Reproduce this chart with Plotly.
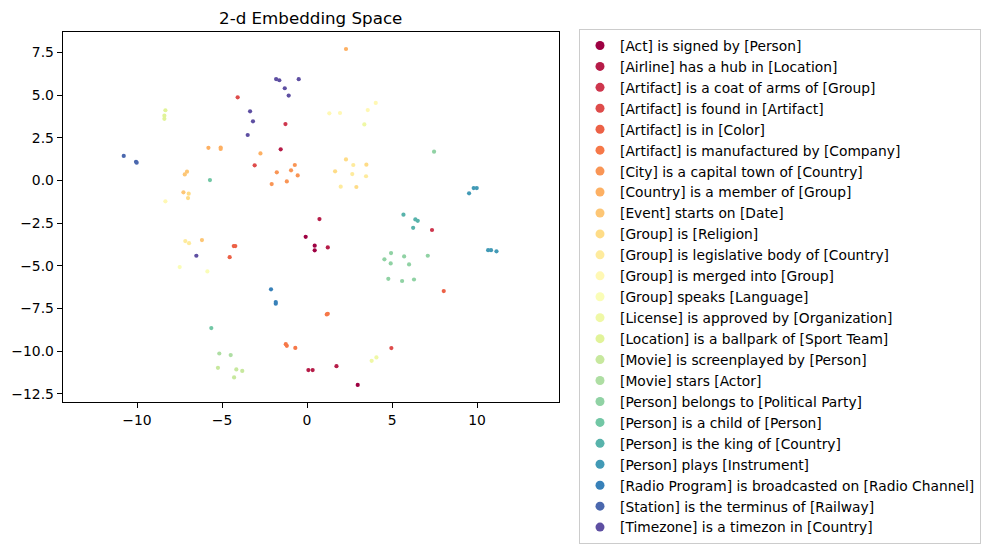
import plotly.graph_objects as go

# ---------------- data ----------------
relations = [
    "[Act] is signed by [Person]",
    "[Airline] has a hub in [Location]",
    "[Artifact] is a coat of arms of [Group]",
    "[Artifact] is found in [Artifact]",
    "[Artifact] is in [Color]",
    "[Artifact] is manufactured by [Company]",
    "[City] is a capital town of [Country]",
    "[Country] is a member of [Group]",
    "[Event] starts on [Date]",
    "[Group] is [Religion]",
    "[Group] is legislative body of [Country]",
    "[Group] is merged into [Group]",
    "[Group] speaks [Language]",
    "[License] is approved by [Organization]",
    "[Location] is a ballpark of [Sport Team]",
    "[Movie] is screenplayed by [Person]",
    "[Movie] stars [Actor]",
    "[Person] belongs to [Political Party]",
    "[Person] is a child of [Person]",
    "[Person] is the king of [Country]",
    "[Person] plays [Instrument]",
    "[Radio Program] is broadcasted on [Radio Channel]",
    "[Station] is the terminus of [Railway]",
    "[Timezone] is a timezon in [Country]",
]

x_act = [0.45, 0.45, 2.98, -0.08]
y_act = [-3.82, -4.09, -11.98, -3.30]
x_airline = [0.73, 1.22, 1.73, 0.08, 0.33, -1.55]
y_airline = [-2.26, -3.92, -10.88, -11.11, -11.11, 1.83]
x_coat = [7.35, -1.27]
y_coat = [-2.90, 3.31]
x_found = [-4.08, -3.08, 4.96]
y_found = [4.88, 0.89, -9.82]
x_color = [-4.31, -4.22, -4.55, 8.04]
y_color = [-3.84, -3.84, -4.49, -6.48]
x_manuf = [1.16, 1.22, -1.25, -1.19, -0.69]
y_manuf = [-7.85, -7.81, -9.59, -9.69, -9.81]
x_capital = [-0.72, -0.94, -0.55, -1.78, -1.19, -2.08]
y_capital = [0.91, 0.60, 0.30, 0.48, -0.05, -0.21]
x_member = [2.29, -2.74, -5.80, -5.08, -5.08]
y_member = [7.71, 1.59, 1.92, 1.93, 1.85]
x_event = [-7.06, -7.19, -6.18, -7.27]
y_event = [0.52, 0.36, -3.49, -0.69]
x_religion = [-6.96, -7.00, 2.29, 3.49, 1.65, 2.90]
y_religion = [-0.77, -1.03, 1.24, 0.93, 0.54, -0.38]
x_legis = [2.72, 2.66, 3.47, 1.98, -7.16, -6.94]
y_legis = [0.91, 0.38, 0.25, -0.36, -3.55, -3.67]
x_merged = [1.31, 1.94, 3.57, 4.04, -8.33]
y_merged = [3.94, 3.96, 4.13, 4.55, -1.22]
x_speaks = [-7.49, -5.86]
y_speaks = [-5.07, -5.33]
x_license = [3.37, 4.08, 3.80]
y_license = [3.29, -10.37, -10.57]
x_ballpark = [-8.33, -8.39, -8.39]
y_ballpark = [4.12, 3.80, 3.62]
x_screen = [-5.24, -4.16, -3.81, -4.29]
y_screen = [-10.98, -11.07, -11.16, -11.54]
x_stars = [-5.16, -4.49]
y_stars = [-10.14, -10.23]
x_belongs = [4.94, 5.71, 4.55, 4.92, 6.00, 7.10, 4.78, 5.59, 6.29, 7.47]
y_belongs = [-4.25, -4.45, -4.62, -4.86, -4.92, -4.41, -5.76, -5.89, -5.80, 1.69]
x_child = [-5.71, -5.63]
y_child = [0.03, -8.65]
x_king = [5.67, 6.37, 6.51, 6.24]
y_king = [-2.00, -2.28, -2.36, -2.77]
x_plays = [9.80, 9.98, 9.53, 10.65, 10.82, 11.14]
y_plays = [-0.44, -0.44, -0.75, -4.08, -4.08, -4.15]
x_radio = [-2.12, -1.84, -1.84]
y_radio = [-6.38, -7.12, -7.22]
x_station = [-10.78, -10.06, -10.02]
y_station = [1.44, 1.10, 1.05]
x_timezone = [-1.82, -1.63, -0.49, -1.31, -1.08, -3.35, -3.18, -3.49, -6.51]
y_timezone = [5.95, 5.88, 5.94, 5.41, 4.98, 4.06, 3.47, 2.67, -4.41]

xs = [x_act, x_airline, x_coat, x_found, x_color, x_manuf, x_capital, x_member,
      x_event, x_religion, x_legis, x_merged, x_speaks, x_license, x_ballpark,
      x_screen, x_stars, x_belongs, x_child, x_king, x_plays, x_radio,
      x_station, x_timezone]
ys = [y_act, y_airline, y_coat, y_found, y_color, y_manuf, y_capital, y_member,
      y_event, y_religion, y_legis, y_merged, y_speaks, y_license, y_ballpark,
      y_screen, y_stars, y_belongs, y_child, y_king, y_plays, y_radio,
      y_station, y_timezone]

x_ticks = [-10, -5, 0, 5, 10]
y_ticks = [-12.5, -10.0, -7.5, -5.0, -2.5, 0.0, 2.5, 5.0, 7.5]

# ---------------- colormap (Spectral) ----------------
spectral = ["#9e0142", "#d53e4f", "#f46d43", "#fdae61", "#fee08b", "#ffffbf",
            "#e6f598", "#abdda4", "#66c2a5", "#3288bd", "#5e4fa2"]


def hex2rgb(h):
    return tuple(int(h[i:i + 2], 16) for i in (1, 3, 5))


def spectral_at(t):
    pos = t * (len(spectral) - 1)
    i = min(int(pos), len(spectral) - 2)
    f = pos - i
    a, b = hex2rgb(spectral[i]), hex2rgb(spectral[i + 1])
    c = [round(a[k] + (b[k] - a[k]) * f) for k in range(3)]
    return "rgb(%d,%d,%d)" % tuple(c)


n = len(relations)
colors = [spectral_at(i / (n - 1)) for i in range(n)]

FONT = "DejaVu Sans"
W, H = 995, 549

fig = go.Figure()
for i, name in enumerate(relations):
    fig.add_trace(go.Scatter(
        x=xs[i], y=ys[i], mode="markers", name=name, showlegend=False,
        marker=dict(color=colors[i], size=4.2, line=dict(width=0)),
        hoverinfo="x+y+name",
    ))
# legend entries
for i, name in enumerate(relations):
    fig.add_trace(go.Scatter(
        x=[None], y=[None], mode="markers", name=name, showlegend=True,
        marker=dict(color=colors[i], size=9, line=dict(width=0)),
    ))


def fmt(v):
    s = ("%g" % v) if isinstance(v, int) else ("%.1f" % v)
    return s.replace("-", "\u2212")


axis_common = dict(
    showline=True, linecolor="black", linewidth=1, mirror=True,
    ticks="outside", ticklen=5, tickwidth=1, tickcolor="black",
    showgrid=False, zeroline=False, automargin=False,
    tickfont=dict(family=FONT, size=13.9, color="black"),
)

fig.update_layout(
    width=W, height=H,
    margin=dict(l=0, r=0, t=0, b=0, pad=0, autoexpand=False),
    paper_bgcolor="white", plot_bgcolor="white",
    font=dict(family=FONT, color="black"),
    title=dict(text="2-d Embedding Space", xref="paper",
               x=(62.7 + 558.7) / 2 / W, xanchor="center",
               yref="container", y=1 - 18 / H, yanchor="middle",
               font=dict(family=FONT, size=16.7, color="black")),
    xaxis=dict(range=[-14.37, 14.8], domain=[62.7 / W, 558.7 / W],
               tickvals=x_ticks, ticktext=[fmt(v) for v in x_ticks],
               **axis_common),
    yaxis=dict(range=[-13.0, 8.69], domain=[1 - 402.3 / H, 1 - 32.3 / H],
               tickvals=y_ticks, ticktext=[fmt(v) for v in y_ticks],
               **axis_common),
    legend=dict(x=579 / W, xanchor="left", y=1 - 29 / H, yanchor="top",
                bgcolor="white", bordercolor="#cccccc", borderwidth=1,
                font=dict(family=FONT, size=13.8, color="black"),
                tracegroupgap=0),
    showlegend=True,
)

fig.write_html("out.html", config={"displayModeBar": False},
               post_script="document.body.style.margin='0px';")
